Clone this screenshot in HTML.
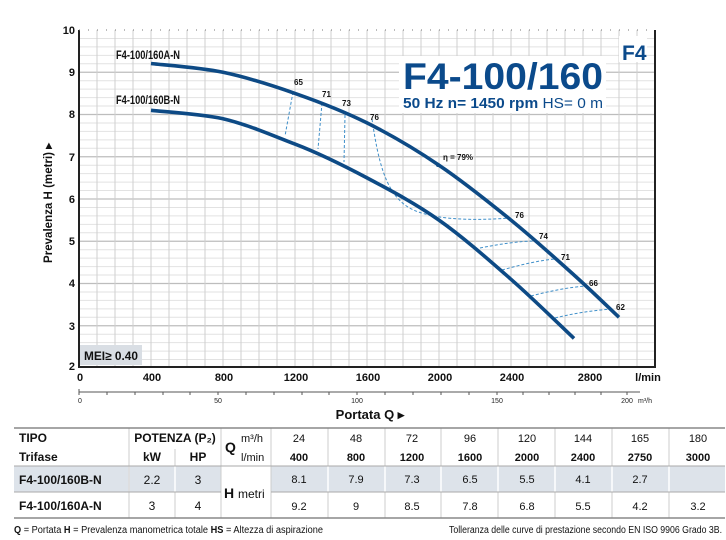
<!DOCTYPE html>
<html><head><meta charset="utf-8"><style>
html,body{margin:0;padding:0;background:#fff;}
svg{display:block;}
text{font-family:"Liberation Sans Narrow","Liberation Sans",sans-serif;}
</style></head><body>
<svg width="726" height="540" viewBox="0 0 726 540" xmlns="http://www.w3.org/2000/svg">
<g id="grid" stroke="#cfcfcf" stroke-width="1">
<path d="M79 38.45H655M79 46.9H655M79 55.35H655M79 63.8H655M79 80.7H655M79 89.15H655M79 97.6H655M79 106.05H655M79 122.95H655M79 131.4H655M79 139.85H655M79 148.3H655M79 165.2H655M79 173.65H655M79 182.1H655M79 190.55H655M79 207.45H655M79 215.9H655M79 224.35H655M79 232.8H655M79 249.7H655M79 258.15H655M79 266.6H655M79 275.05H655M79 291.95H655M79 300.4H655M79 308.85H655M79 317.3H655M79 334.2H655M79 342.65H655M79 351.1H655M79 359.55H655" stroke="#e2e2e2"/>
<path d="M79 72.25H655M79 114.5H655M79 156.75H655M79 199H655M79 241.25H655M79 283.5H655M79 325.75H655" stroke="#bdbdbd" stroke-width="1.3"/>
<path d="M97 30V367M115 30V367M133 30V367M151 30V367M169 30V367M187 30V367M205 30V367M223 30V367M241 30V367M259 30V367M277 30V367M295 30V367M313 30V367M331 30V367M349 30V367M367 30V367M385 30V367M403 30V367M421 30V367M439 30V367M457 30V367M475 30V367M493 30V367M511 30V367M529 30V367M547 30V367M565 30V367M583 30V367M601 30V367M619 30V367M637 30V367"/>
</g>
<path d="M79 30V367H655V30" fill="none" stroke="#222" stroke-width="2"/>
<path d="M79 30H655" stroke="#777" stroke-width="1" stroke-dasharray="1 8"/>
<rect x="399" y="56" width="207" height="57" fill="#fff"/>
<rect x="619" y="36" width="28" height="26" fill="#fff"/>
<text x="403" y="89" font-weight="bold" font-size="37" fill="#0b4a8b" textLength="200" lengthAdjust="spacingAndGlyphs" style="font-family:'Liberation Sans',sans-serif">F4-100/160</text>
<text x="403" y="108" font-size="15" font-weight="bold" fill="#0b4a8b" style="font-family:'Liberation Sans',sans-serif" textLength="200" lengthAdjust="spacingAndGlyphs">50 Hz   n= 1450 rpm   <tspan font-weight="normal">HS= 0 m</tspan></text>
<text x="622" y="60" font-size="21" font-weight="bold" fill="#0b4a8b">F4</text>
<rect x="80" y="345" width="62" height="20" fill="#d9dee4"/>
<text x="84" y="360" font-size="12" font-weight="bold" fill="#111" textLength="54" lengthAdjust="spacingAndGlyphs">MEI≥ 0.40</text>
<g fill="none" stroke="#3f8fc9" stroke-width="1" stroke-dasharray="3 2">
<path d="M293 92L285 136"/>
<path d="M322 103L318 149"/>
<path d="M345 115L344 162"/>
<path d="M372 119C378 160 385 190 405 205C425 220 470 221 510 218"/>
<path d="M480 248C500 244 520 241 535 241"/>
<path d="M502 270C520 265 540 260 556 259"/>
<path d="M531 296C550 291 570 287 587 286"/>
<path d="M555 318C575 313 595 310 614 309"/>
</g>
<g fill="none" stroke="#0d4a85" stroke-width="3.6" stroke-linecap="butt" stroke-linejoin="round">
<path d="M151 63.5C163 65 199 67.3 223 72.3C247 77.3 271 85 295 93.4C319 101.8 343 110.9 367 122.9C391 134.9 415 149 439 165.2C463 181.4 488.5 201.8 511 220.1C533.5 238.4 556 258.8 574 275C592 291.2 611.5 310.3 619 317.3"/>
<path d="M151 110.3C163 111.7 199 113.7 223 118.7C247 124.3 271 134.9 295 144.1C319 153.3 343 165.2 367 177.9C391 190.6 415 203.2 439 220.1C463 237 488.5 259.6 511 279.3C533.5 299 563.5 328.6 574 338.4"/>
</g>
<circle cx="438" cy="165" r="2" fill="#0d4a85"/>
<g font-size="8" font-weight="bold" fill="#111" style="font-family:'Liberation Sans',sans-serif">
<text x="294" y="85">65</text><text x="322" y="97">71</text><text x="342" y="106">73</text><text x="370" y="120">76</text>
<text x="443" y="160">η = 79%</text>
<text x="515" y="218">76</text><text x="539" y="239">74</text><text x="561" y="260">71</text><text x="589" y="286">66</text><text x="616" y="310">62</text>
</g>
<text x="116" y="59" font-size="12" font-weight="bold" fill="#111" textLength="64" lengthAdjust="spacingAndGlyphs">F4-100/160A-N</text>
<text x="116" y="104" font-size="12" font-weight="bold" fill="#111" textLength="64" lengthAdjust="spacingAndGlyphs">F4-100/160B-N</text>
<g font-size="11" font-weight="bold" fill="#111" text-anchor="end">
<text x="75" y="34">10</text><text x="75" y="76">9</text><text x="75" y="118">8</text><text x="75" y="161">7</text><text x="75" y="203">6</text><text x="75" y="245">5</text><text x="75" y="287">4</text><text x="75" y="330">3</text><text x="75" y="370">2</text>
</g>
<text transform="translate(52,203) rotate(-90)" font-size="12" font-weight="bold" fill="#111" text-anchor="middle" textLength="120" lengthAdjust="spacingAndGlyphs">Prevalenza H  (metri)  ▸</text>
<g font-size="11" font-weight="bold" fill="#111" text-anchor="middle">
<text x="80" y="381">0</text><text x="152" y="381">400</text><text x="224" y="381">800</text><text x="296" y="381">1200</text><text x="368" y="381">1600</text><text x="440" y="381">2000</text><text x="512" y="381">2400</text><text x="590" y="381">2800</text><text x="648" y="381">l/min</text>
</g>
<path d="M79 392H640" stroke="#555" stroke-width="1"/>
<path d="M79 389V395M107 392V395M135 392V395M163 392V395M190 392V395M218 392V395M246 392V395M274 392V395M302 392V395M329 392V395M357 392V395M385 392V395M413 392V395M441 392V395M469 392V395M497 392V395M523 392V395M549 392V395M575 392V395M601 392V395M627 392V395" stroke="#555"/>
<g font-size="7" fill="#222" text-anchor="middle">
<text x="80" y="403">0</text><text x="218" y="403">50</text><text x="357" y="403">100</text><text x="497" y="403">150</text><text x="627" y="403">200</text><text x="645" y="403">m³/h</text>
</g>
<text x="370" y="419" font-size="13" font-weight="bold" fill="#111" text-anchor="middle">Portata Q ▸</text>
<rect x="14" y="466" width="207" height="26" fill="#dde3ea"/>
<rect x="271" y="466" width="454" height="26" fill="#dde3ea"/>
<g stroke="#fff" stroke-width="1.5">
<path d="M129 466V492M175 466V492M328 466V492M385 466V492M441 466V492M498 466V492M555 466V492M612 466V492M669 466V492"/>
</g>
<g stroke="#ccc" stroke-width="1">
<path d="M129 428V518M221 428V518M271 428V518M175 449V466M175 492V518M328 428V466M385 428V466M441 428V466M498 428V466M555 428V466M612 428V466M669 428V466M328 492V518M385 492V518M441 492V518M498 492V518M555 492V518M612 492V518M669 492V518"/>
</g>
<path d="M14 428H725" stroke="#888" stroke-width="1.5"/>
<path d="M14 466H725M14 492H221M271 492H725" stroke="#aaa" stroke-width="1"/>
<path d="M14 518H725" stroke="#888" stroke-width="1.5"/>
<g font-size="12" fill="#111">
<text x="19" y="442" font-weight="bold">TIPO</text>
<text x="19" y="461" font-weight="bold">Trifase</text>
<text x="175" y="442" font-weight="bold" text-anchor="middle">POTENZA (P₂)</text>
<text x="152" y="461" font-weight="bold" text-anchor="middle">kW</text>
<text x="198" y="461" font-weight="bold" text-anchor="middle">HP</text>
<text x="225" y="452" font-weight="bold" font-size="14">Q</text>
<text x="241" y="442" font-size="11">m³/h</text>
<text x="241" y="461" font-size="11">l/min</text>
<text x="19" y="484" font-weight="bold">F4-100/160B-N</text>
<text x="19" y="510" font-weight="bold">F4-100/160A-N</text>
<text x="152" y="484" text-anchor="middle">2.2</text><text x="198" y="484" text-anchor="middle">3</text>
<text x="152" y="510" text-anchor="middle">3</text><text x="198" y="510" text-anchor="middle">4</text>
<text x="224" y="498" font-weight="bold" font-size="14">H</text><text x="238" y="498" font-size="12">metri</text>
</g>
<g font-size="11" fill="#111" text-anchor="middle">
<text x="299" y="442">24</text><text x="356" y="442">48</text><text x="412" y="442">72</text><text x="470" y="442">96</text><text x="527" y="442">120</text><text x="583" y="442">144</text><text x="640" y="442">165</text><text x="698" y="442">180</text>
<g font-weight="bold"><text x="299" y="461">400</text><text x="356" y="461">800</text><text x="412" y="461">1200</text><text x="470" y="461">1600</text><text x="527" y="461">2000</text><text x="583" y="461">2400</text><text x="640" y="461">2750</text><text x="698" y="461">3000</text></g>
<text x="299" y="483">8.1</text><text x="356" y="483">7.9</text><text x="412" y="483">7.3</text><text x="470" y="483">6.5</text><text x="527" y="483">5.5</text><text x="583" y="483">4.1</text><text x="640" y="483">2.7</text>
<text x="299" y="510">9.2</text><text x="356" y="510">9</text><text x="412" y="510">8.5</text><text x="470" y="510">7.8</text><text x="527" y="510">6.8</text><text x="583" y="510">5.5</text><text x="640" y="510">4.2</text><text x="698" y="510">3.2</text>
</g>
<text x="14" y="533" font-size="10" fill="#111" textLength="309" lengthAdjust="spacingAndGlyphs"><tspan font-weight="bold">Q</tspan> = Portata  <tspan font-weight="bold">H</tspan> = Prevalenza manometrica totale  <tspan font-weight="bold">HS</tspan> = Altezza di aspirazione</text>
<text x="449" y="533" font-size="10" fill="#111" textLength="273" lengthAdjust="spacingAndGlyphs">Tolleranza delle curve di prestazione secondo EN ISO 9906 Grado 3B.</text>
</svg>
</body></html>
